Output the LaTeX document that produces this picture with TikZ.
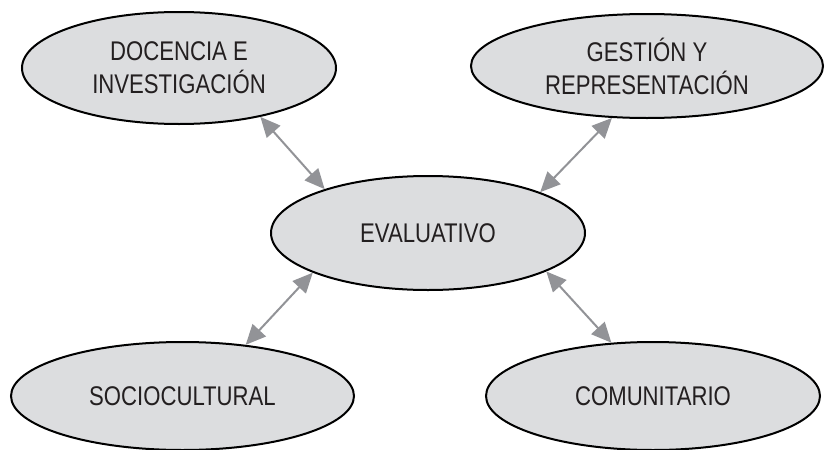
\documentclass[tikz,border=0pt]{standalone}
\usepackage{fontspec}
\setmainfont{Liberation Sans}[FakeStretch=0.82]
\usetikzlibrary{shapes.geometric,arrows.meta}
\definecolor{ellfill}{RGB}{220,221,223}
\definecolor{arrgray}{RGB}{146,147,151}
\definecolor{txt}{RGB}{35,31,32}
\begin{document}
\begin{tikzpicture}[x=1pt,y=-1pt,
  bubble/.style={ellipse,draw=black,line width=2pt,fill=ellfill,inner sep=0pt,
    text=txt,align=center,font=\fontsize{27}{33}\selectfont},
  link/.style={draw=arrgray,line width=2pt,{Triangle[length=20pt,width=18pt]}-{Triangle[length=20pt,width=18pt]}}]
\useasboundingbox (0,0) rectangle (825,450);
\node[bubble,minimum width=314pt,minimum height=112pt] (tl) at (179,68) {DOCENCIA E\\INVESTIGACIÓN};
\node[bubble,minimum width=352pt,minimum height=104pt] (tr) at (647,66) {GESTIÓN Y\\REPRESENTACIÓN};
\node[bubble,minimum width=314pt,minimum height=114pt] (c) at (428,233) {EVALUATIVO};
\node[bubble,minimum width=343pt,minimum height=108pt] (bl) at (182.5,396) {SOCIOCULTURAL};
\node[bubble,minimum width=334pt,minimum height=108pt] (br) at (653,396) {COMUNITARIO};
\draw[link] (tl.-31) -- (c.157);
\draw[link] (tr.-124) -- (c.20);
\draw[link] (bl.39) -- (c.199);
\draw[link] (br.128) -- (c.-18);
\end{tikzpicture}
\end{document}
